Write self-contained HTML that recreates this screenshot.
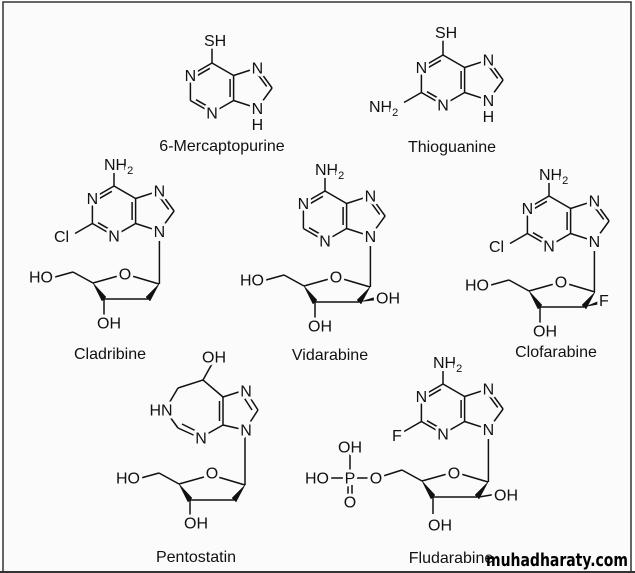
<!DOCTYPE html>
<html><head><meta charset="utf-8"><style>
html,body{margin:0;padding:0;background:#fff;}
svg{display:block;}
text{font-family:"Liberation Sans",Arial,sans-serif;fill:#111;}
.a{font-size:16px;text-anchor:middle;stroke:#fbfbfb;stroke-width:6px;paint-order:stroke;stroke-linejoin:round;}
.as{font-size:16px;stroke:#fbfbfb;stroke-width:6px;paint-order:stroke;stroke-linejoin:round;}
.n{font-size:16px;text-anchor:middle;}
line{stroke:#111;stroke-width:1.5;}
</style></head><body>
<svg width="635" height="573" viewBox="0 0 635 573" xmlns="http://www.w3.org/2000/svg">
<defs>
<g id="pur" stroke="#111" stroke-width="1.5" fill="none">
<line x1="0" y1="0" x2="-21.6" y2="12.5"/>
<line x1="-21.6" y1="12.5" x2="-21.6" y2="37.5"/>
<line x1="-21.6" y1="37.5" x2="0" y2="50"/>
<line x1="0" y1="50" x2="21.6" y2="37.5"/>
<line x1="21.6" y1="37.5" x2="21.6" y2="12.5"/>
<line x1="21.6" y1="12.5" x2="0" y2="0"/>
<line x1="21.6" y1="12.5" x2="45.4" y2="4.8"/>
<line x1="45.4" y1="4.8" x2="60.1" y2="25"/>
<line x1="60.1" y1="25" x2="45.4" y2="45.2"/>
<line x1="45.4" y1="45.2" x2="21.6" y2="37.5"/>
<line x1="-2.1" y1="5.3" x2="-16" y2="13.3"/>
<line x1="-16" y1="36.7" x2="-2.1" y2="44.7"/>
<line x1="18.1" y1="16" x2="18.1" y2="34"/>
<line x1="45.2" y1="10.5" x2="54.7" y2="23.4"/>
</g>
<g id="sug" stroke="#111" stroke-width="1.5" fill="none">
<line x1="0" y1="0" x2="-27" y2="-8"/>
<line x1="-41" y1="-8" x2="-66" y2="-1"/>
<polygon points="-66,-1 -53,13 -57,17" fill="#111" stroke-width="0.5"/>
<line x1="-55" y1="15" x2="-11" y2="15" stroke-width="4"/>
<polygon points="0,0 -13,13 -9,17" fill="#111" stroke-width="0.5"/>
<line x1="-66" y1="-1" x2="-86" y2="-12"/>
<line x1="-86" y1="-12" x2="-104" y2="-7"/>
<line x1="-55" y1="15" x2="-55" y2="32"/>
</g>
</defs>
<rect x="3" y="2" width="628" height="570" fill="#fbfbfb" stroke="#333" stroke-width="1.5"/>

<!-- 6-Mercaptopurine -->
<use href="#pur" transform="translate(212,63)"/>
<line x1="212" y1="63" x2="212" y2="47"/>
<text class="as" x="204" y="46">SH</text>
<text class="a" x="190.4" y="81">N</text>
<text class="a" x="212" y="118.5">N</text>
<text class="a" x="257.4" y="73.5">N</text>
<text class="a" x="257.4" y="114">N</text>
<text class="a" x="257.4" y="130">H</text>
<text class="n" x="222" y="151">6-Mercaptopurine</text>

<!-- Thioguanine -->
<use href="#pur" transform="translate(443,55)"/>
<line x1="443" y1="55" x2="443" y2="39"/>
<text class="as" x="435" y="38">SH</text>
<line x1="421.4" y1="92.5" x2="404" y2="102.5"/>
<text class="as" x="369" y="112">NH<tspan font-size="11" dy="4">2</tspan></text>
<text class="a" x="421.4" y="73">N</text>
<text class="a" x="443" y="110.5">N</text>
<text class="a" x="488.4" y="65.5">N</text>
<text class="a" x="488.4" y="106">N</text>
<text class="a" x="488.4" y="122">H</text>
<text class="n" x="452" y="152">Thioguanine</text>

<!-- Cladribine -->
<use href="#pur" transform="translate(114,186)"/>
<line x1="114" y1="186" x2="114" y2="171"/>
<line x1="92.4" y1="223.5" x2="75" y2="233.5"/>
<line x1="159.4" y1="241" x2="159.4" y2="284"/>
<use href="#sug" transform="translate(159,284)"/>
<text class="as" x="104" y="170">NH<tspan font-size="11" dy="4">2</tspan></text>
<text class="as" x="54" y="242">Cl</text>
<text class="a" x="92.4" y="204">N</text>
<text class="a" x="114" y="241.5">N</text>
<text class="a" x="159.4" y="196.5">N</text>
<text class="a" x="159.4" y="237">N</text>
<text class="a" x="125" y="279.5">O</text>
<text class="a" x="41" y="282.5">HO</text>
<text class="a" x="109" y="328.5">OH</text>
<text class="n" x="110" y="359">Cladribine</text>

<!-- Vidarabine -->
<use href="#pur" transform="translate(325,191)"/>
<line x1="325" y1="191" x2="325" y2="176"/>
<line x1="370.4" y1="246" x2="370.4" y2="287"/>
<use href="#sug" transform="translate(370,287)"/>
<polygon points="359,302 378,296 378,300" fill="#111"/>
<text class="as" x="315" y="175">NH<tspan font-size="11" dy="4">2</tspan></text>
<text class="a" x="303.4" y="209">N</text>
<text class="a" x="325" y="246.5">N</text>
<text class="a" x="370.4" y="201.5">N</text>
<text class="a" x="370.4" y="242">N</text>
<text class="as" x="376" y="303.5">OH</text>
<text class="a" x="336" y="282.5">O</text>
<text class="a" x="252" y="285.5">HO</text>
<text class="a" x="320" y="331.5">OH</text>
<text class="n" x="330" y="360">Vidarabine</text>

<!-- Clofarabine -->
<use href="#pur" transform="translate(549,196)"/>
<line x1="549" y1="196" x2="549" y2="181"/>
<line x1="527.4" y1="233.5" x2="510" y2="243.5"/>
<line x1="594.4" y1="251" x2="594.4" y2="292"/>
<use href="#sug" transform="translate(595,292)"/>
<polygon points="584,307 601,300 601,304" fill="#111"/>
<text class="as" x="539" y="180">NH<tspan font-size="11" dy="4">2</tspan></text>
<text class="as" x="489" y="252">Cl</text>
<text class="a" x="527.4" y="214">N</text>
<text class="a" x="549" y="251.5">N</text>
<text class="a" x="594.4" y="206.5">N</text>
<text class="a" x="594.4" y="247">N</text>
<text class="as" x="599" y="306">F</text>
<text class="a" x="561" y="287.5">O</text>
<text class="a" x="477" y="290.5">HO</text>
<text class="a" x="545" y="336.5">OH</text>
<text class="n" x="556" y="357">Clofarabine</text>

<!-- Pentostatin -->
<g stroke="#111" stroke-width="1.5" fill="none">
<line x1="213" y1="362" x2="203" y2="380"/>
<line x1="203" y1="380" x2="178" y2="388"/>
<line x1="178" y1="388" x2="165" y2="410"/>
<line x1="165" y1="410" x2="178" y2="428"/>
<line x1="178" y1="428" x2="200" y2="438"/>
<line x1="182" y1="424" x2="198" y2="432"/>
<line x1="200" y1="438" x2="223" y2="425"/>
<line x1="223" y1="425" x2="223" y2="397"/>
<line x1="219.5" y1="421" x2="219.5" y2="401"/>
<line x1="223" y1="397" x2="203" y2="380"/>
<line x1="223" y1="397" x2="245" y2="390"/>
<line x1="245" y1="390" x2="258" y2="410"/>
<line x1="243" y1="396" x2="252" y2="410"/>
<line x1="258" y1="410" x2="245" y2="430"/>
<line x1="245" y1="430" x2="223" y2="425"/>
<line x1="245" y1="432" x2="245" y2="485"/>
</g>
<use href="#sug" transform="translate(245,485)"/>
<text class="a" x="214" y="362.5">OH</text>
<text class="a" x="161" y="415.5">HN</text>
<text class="a" x="201" y="443.5">N</text>
<text class="a" x="246" y="396.5">N</text>
<text class="a" x="246" y="435.5">N</text>
<text class="a" x="212" y="478.5">O</text>
<text class="a" x="128" y="483.5">HO</text>
<text class="a" x="196" y="528.5">OH</text>
<text class="n" x="196" y="562">Pentostatin</text>

<!-- Fludarabine -->
<use href="#pur" transform="translate(443,384)"/>
<line x1="443" y1="384" x2="443" y2="369"/>
<line x1="421.4" y1="421.5" x2="404" y2="431.5"/>
<line x1="488.4" y1="439" x2="488.4" y2="482"/>
<g stroke="#111" stroke-width="1.5" fill="none">
<line x1="488" y1="482" x2="461" y2="474"/>
<line x1="447" y1="474" x2="422" y2="481"/>
<polygon points="422,481 435,495 431,499" fill="#111" stroke-width="0.5"/>
<line x1="433" y1="497" x2="477" y2="497" stroke-width="4"/>
<polygon points="488,482 475,495 479,499" fill="#111" stroke-width="0.5"/>
<line x1="422" y1="481" x2="402" y2="470"/>
<line x1="402" y1="470" x2="380" y2="477"/>
<line x1="433" y1="497" x2="433" y2="514"/>
<line x1="479" y1="497" x2="497" y2="494"/>
<line x1="372" y1="478" x2="356" y2="478"/>
<line x1="344" y1="478" x2="326" y2="478"/>
<line x1="350" y1="470" x2="350" y2="452"/>
<line x1="348" y1="485" x2="348" y2="498"/>
<line x1="352" y1="485" x2="352" y2="498"/>
</g>
<text class="as" x="433" y="368">NH<tspan font-size="11" dy="4">2</tspan></text>
<text class="as" x="392" y="441">F</text>
<text class="a" x="421.4" y="402">N</text>
<text class="a" x="443" y="439.5">N</text>
<text class="a" x="488.4" y="394.5">N</text>
<text class="a" x="488.4" y="435">N</text>
<text class="a" x="454" y="478.5">O</text>
<text class="a" x="376" y="483.5">O</text>
<text class="a" x="350" y="483.5">P</text>
<text class="a" x="317" y="483.5">HO</text>
<text class="a" x="350" y="452.5">OH</text>
<text class="a" x="350" y="507.5">O</text>
<text class="as" x="494" y="500.5">OH</text>
<text class="a" x="440" y="530.5">OH</text>
<text class="n" x="451" y="563">Fludarabine</text>

<text x="486" y="566" font-size="18" font-weight="bold" textLength="142" lengthAdjust="spacingAndGlyphs" style="font-family:'DejaVu Sans','Liberation Sans',sans-serif;fill:#000;">muhadharaty.com</text>
<rect x="0" y="571" width="635" height="2" fill="#333"/>
</svg>
</body></html>
